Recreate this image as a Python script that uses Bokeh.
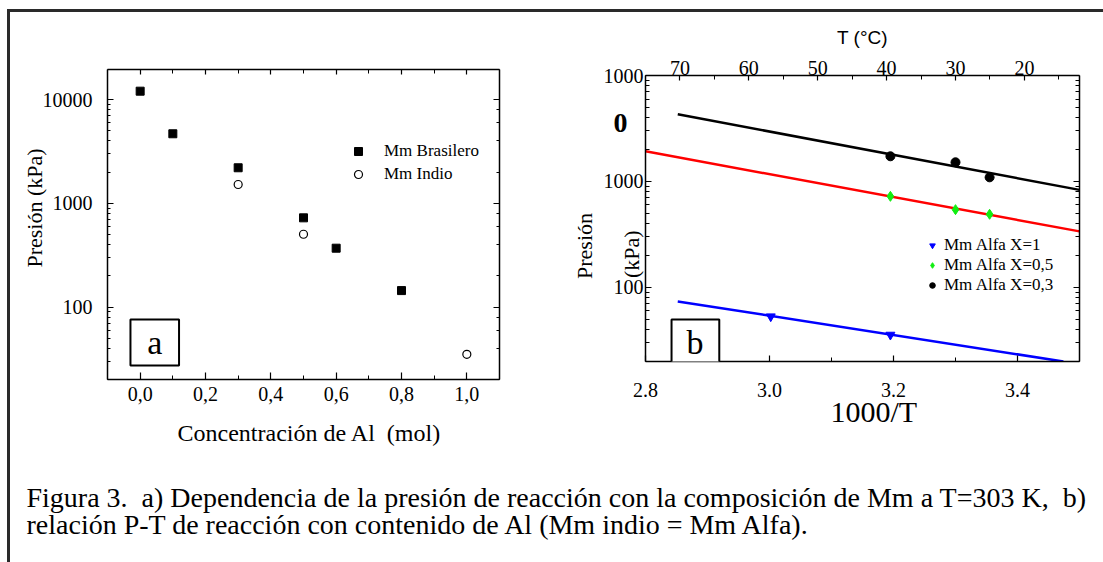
import numpy as np
from bokeh.plotting import figure
from bokeh.models import (Range1d, LinearAxis, LogAxis, FixedTicker, CustomJSTickFormatter,
                          PrintfTickFormatter, Legend, LegendItem, Label, BoxAnnotation)
from bokeh.layouts import row, column
from bokeh.embed import file_html
from bokeh.resources import INLINE
from bokeh.core.properties import value

# ---------------- data: panel a ----------------
al_brasilero = [0.0, 0.1, 0.3, 0.5, 0.6, 0.8]
p_brasilero = [12050, 4680, 2200, 724, 369, 144]
al_indio = [0.3, 0.5, 1.0]
p_indio = [1517, 503, 35]
al_ticks = [0.0, 0.2, 0.4, 0.6, 0.8, 1.0]
al_minor = [-0.1, 0.1, 0.3, 0.5, 0.7, 0.9, 1.1]

# ---------------- data: panel b ----------------
invT_x1 = [3.002, 3.195]
p_x1 = [53.2, 35.7]
invT_x05 = [3.195, 3.300, 3.355]
p_x05 = [724, 542, 490]
invT_x03 = [3.195, 3.300, 3.355]
p_x03 = [1728, 1517, 1094]
fit_x1_x = [2.852, 3.474]
fit_x1_y = [73.8, 20.0]
fit_x05_x = [2.8, 3.5]
fit_x05_y = [1927, 338]
fit_x03_x = [2.852, 3.5]
fit_x03_y = [4305, 833]
invT_ticks = [2.8, 3.0, 3.2, 3.4]
invT_minor = [2.9, 3.1, 3.3, 3.5]
tc_ticks = [70, 60, 50, 40, 30, 20]
tc_minor = [75, 65, 55, 45, 35, 25, 15]
pb_tick_vals = [100, 1000, 10000]
pb_tick_labels = ["100", "1000", "1000"]
pb_minor = [m * d for d in (10, 100, 1000) for m in range(2, 10)]
pb_stray_val = [3540]          # position of the stray bold "0" left of panel b
pb_stray_label = ["0"]

NB = "\u00a0"
caption_lines = [
    "Figura 3." + NB + " a) Dependencia de la presión de reacción con la composición de Mm a T=303 K," + NB + " b)",
    "relación P-T de reacción con contenido de Al (Mm indio = Mm Alfa).",
]

SERIF = "Liberation Serif"
SANS = "Liberation Sans"


def blank():
    return CustomJSTickFormatter(code="return ''")


def no_align(p):
    try:
        p.frame_align = False
    except Exception:
        pass


def style_axis(ax, major_in=6, minor_in=4, size="20px"):
    ax.major_tick_in = major_in
    ax.major_tick_out = 0
    ax.minor_tick_in = minor_in
    ax.minor_tick_out = 0
    ax.axis_line_color = "black"
    ax.axis_line_width = 1.5
    ax.major_tick_line_color = "black"
    ax.minor_tick_line_color = "black"
    ax.major_tick_line_width = 1.2
    ax.minor_tick_line_width = 1
    ax.major_label_text_font = SERIF
    ax.major_label_text_font_size = size
    ax.major_label_text_color = "black"
    ax.axis_label_text_font = SERIF
    ax.axis_label_text_font_style = "normal"
    ax.axis_label_text_color = "black"


# ================= panel a =================
p1 = figure(width=549, height=440, x_range=Range1d(-0.1, 1.1), y_range=Range1d(20, 19500),
            y_axis_type="log", output_backend="svg", toolbar_location=None,
            min_border_left=97, min_border_right=60, min_border_top=57, min_border_bottom=73)
no_align(p1)
p1.grid.visible = False
p1.outline_line_color = None

xa = p1.xaxis[0]
xa.ticker = FixedTicker(ticks=al_ticks, minor_ticks=al_minor)
xa.formatter = CustomJSTickFormatter(code="return tick.toFixed(1).replace('.', ',')")
style_axis(xa, 7, 4)
xa.major_label_standoff = 7
xa.axis_label = NB * 2 + "Concentración de Al" + NB + " (mol)"
xa.axis_label_text_font_size = "24px"
xa.axis_label_standoff = 16

ya = p1.yaxis[0]
ya.formatter = PrintfTickFormatter(format="%d")
style_axis(ya, 6, 3)
ya.major_label_standoff = 15
ya.axis_label = NB * 6 + "Presión (kPa)"
ya.axis_label_text_font_size = "22px"
ya.axis_label_standoff = -7

xa_top = LinearAxis(ticker=FixedTicker(ticks=al_ticks, minor_ticks=al_minor), formatter=blank())
style_axis(xa_top, 5, 4)
p1.add_layout(xa_top, "above")
ya_right = LogAxis(formatter=blank())
style_axis(ya_right, 6, 3)
p1.add_layout(ya_right, "right")

r_b = p1.scatter(al_brasilero, p_brasilero, marker="square", size=8, color="black")
r_i = p1.scatter(al_indio, p_indio, marker="circle", size=8, fill_color="white",
                 line_color="black", line_width=1.2)

leg1 = Legend(items=[LegendItem(label="Mm Brasilero", renderers=[r_b]),
                     LegendItem(label="Mm Indio", renderers=[r_i])],
              location=(241, 195), border_line_color=None, background_fill_alpha=0,
              padding=0, margin=0, spacing=3, glyph_width=20, glyph_height=20,
              label_height=20, label_standoff=16, label_text_font=SERIF,
              label_text_font_size="17px", label_text_color="black")
p1.add_layout(leg1)

p1.add_layout(BoxAnnotation(left=-0.0297, right=0.119, bottom=27.3, top=75.7,
                            fill_color="white", fill_alpha=1, line_color="black",
                            line_alpha=1, line_width=2))
p1.add_layout(Label(x=0.045, y=45.4, text="a", text_align="center", text_baseline="middle",
                    text_font=SERIF, text_font_size="34px", text_color="black"))

# ================= panel b =================
p2 = figure(width=544, height=440, x_range=Range1d(2.8, 3.5), y_range=Range1d(20, 10000),
            y_axis_type="log", output_backend="svg", toolbar_location=None,
            min_border_left=86, min_border_right=24, min_border_top=63, min_border_bottom=91)
no_align(p2)
p2.grid.visible = False
p2.outline_line_color = None
p2.extra_x_ranges = {"tc": Range1d(start=75.0, end=12.0)}

xb = p2.xaxis[0]
xb.ticker = FixedTicker(ticks=invT_ticks, minor_ticks=invT_minor)
xb.formatter = PrintfTickFormatter(format="%.1f")
style_axis(xb, 6, 4)
xb.major_label_standoff = 21
xb.axis_label = NB * 3 + "1000/T"
xb.axis_label_text_font_size = "30px"
xb.axis_label_standoff = -5

yb = p2.yaxis[0]
yb.ticker = FixedTicker(ticks=pb_tick_vals, minor_ticks=pb_minor)
yb.formatter = PrintfTickFormatter(format="%d")
yb.major_label_overrides = dict(zip(pb_tick_vals, pb_tick_labels))
style_axis(yb, 6, 4)
yb.major_label_standoff = 2
yb.axis_label = "(kPa)" + NB * 13
yb.axis_label_text_font_size = "22px"
yb.axis_label_standoff = -43

# outer left axis: carries "Presión" and the stray bold "0" of the original figure
outer = LogAxis(ticker=FixedTicker(ticks=pb_stray_val, minor_ticks=[]),
                axis_label="Presión" + NB * 10)
outer.formatter = PrintfTickFormatter(format="%d")
outer.major_label_overrides = dict(zip(pb_stray_val, pb_stray_label))
outer.axis_line_color = None
outer.major_tick_line_color = None
outer.minor_tick_line_color = None
outer.major_tick_in = 0
outer.major_tick_out = 0
outer.minor_tick_in = 0
outer.minor_tick_out = 0
outer.major_label_text_font = SERIF
outer.major_label_text_font_style = "bold"
outer.major_label_text_font_size = "28px"
outer.major_label_text_color = "black"
outer.major_label_standoff = -12
outer.axis_label_text_font = SERIF
outer.axis_label_text_font_style = "normal"
outer.axis_label_text_font_size = "22px"
outer.axis_label_text_color = "black"
outer.axis_label_standoff = 14
p2.add_layout(outer, "left")

xb_top = LinearAxis(x_range_name="tc", ticker=FixedTicker(ticks=tc_ticks, minor_ticks=tc_minor),
                    axis_label="T (°C)")
style_axis(xb_top, 5, 4)
xb_top.major_label_standoff = 1
xb_top.axis_label_text_font = SANS
xb_top.axis_label_text_font_size = "19px"
xb_top.axis_label_standoff = 10
p2.add_layout(xb_top, "above")

yb_right = LogAxis(ticker=FixedTicker(ticks=pb_tick_vals, minor_ticks=pb_minor), formatter=blank())
style_axis(yb_right, 6, 4)
p2.add_layout(yb_right, "right")

p2.line(fit_x03_x, fit_x03_y, color="black", line_width=2.5)
p2.line(fit_x05_x, fit_x05_y, color="#ff0000", line_width=2.5)
p2.line(fit_x1_x, fit_x1_y, color="#0000ff", line_width=2.5)
r1 = p2.scatter(invT_x1, p_x1, marker="inverted_triangle", size=9, color="#0000ff")
r05 = p2.scatter(invT_x05, p_x05, marker="diamond", size=10, color="#11ee11")
r03 = p2.scatter(invT_x03, p_x03, marker="circle", size=9, color="black")

leg2 = Legend(items=[LegendItem(label="Mm Alfa X=1", renderers=[r1]),
                     LegendItem(label="Mm Alfa X=0,5", renderers=[r05]),
                     LegendItem(label="Mm Alfa X=0,3", renderers=[r03])],
              location=(280, 66), border_line_color=None, background_fill_alpha=0,
              padding=0, margin=0, spacing=0, glyph_width=14, glyph_height=18,
              label_height=18, label_standoff=5, label_text_font=SERIF,
              label_text_font_size="17px", label_text_color="black")
p2.add_layout(leg2)

p2.add_layout(BoxAnnotation(left=2.842, right=2.919, bottom=18.3, top=49.8,
                            fill_color="white", fill_alpha=1, line_color="black",
                            line_alpha=1, line_width=2))
p2.add_layout(Label(x=2.88, y=30.2, text="b", text_align="center", text_baseline="middle",
                    text_font=SERIF, text_font_size="34px", text_color="black"))

# ================= caption =================
p3 = figure(width=1093, height=110, x_range=Range1d(0, 1093), y_range=Range1d(110, 0),
            output_backend="svg", toolbar_location=None, min_border=0)
no_align(p3)
p3.axis.visible = False
p3.grid.visible = False
p3.outline_line_color = None
p3.text(x=[16, 16], y=[45, 72], text=caption_lines, text_font=value(SERIF),
        text_font_size="28px", text_baseline="alphabetic", text_color="black")

layout = column(row(column(p1), column(p2)), p3, margin=(9, 0, 0, 7),
                styles={"border-top": "3px solid #2a2a2a", "border-left": "3px solid #2a2a2a"})

open("out.html", "w").write(file_html(layout, INLINE))
